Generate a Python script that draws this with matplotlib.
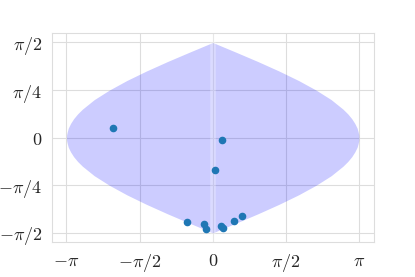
import numpy as np
import matplotlib
matplotlib.use("Agg")
import matplotlib.pyplot as plt
import seaborn as sns

sns.set_style("whitegrid")
plt.rcParams['mathtext.fontset'] = 'cm'
plt.rcParams['font.family'] = ['DejaVu Sans']

# boundary of the shaded region
# latitude as fraction of pi/2, half-width as fraction of pi
boundary_lat_frac = [0.0, 0.03, 0.06, 0.10, 0.15, 0.20, 0.25, 0.30, 0.40,
                     0.50, 0.60, 0.70, 0.80, 0.90, 0.95, 1.0]
boundary_halfwidth_frac = [1.0, 0.999, 0.995, 0.988, 0.972, 0.951, 0.924, 0.891, 0.81,
                           0.707, 0.588, 0.454, 0.309, 0.156, 0.078, 0.0]

# scatter points
pts_x = [-2.139, 0.207, 0.050, -0.546, -0.187, -0.138, 0.172, 0.228, 0.458, 0.630]
pts_y = [0.165, -0.043, -0.539, -1.389, -1.422, -1.505, -1.460, -1.488, -1.377, -1.290]

xticks = [-np.pi, -np.pi/2, 0, np.pi/2, np.pi]
xticklabels = [r'$-\pi$', r'$-\pi/2$', r'$0$', r'$\pi/2$', r'$\pi$']
yticks = [-np.pi/2, -np.pi/4, 0, np.pi/4, np.pi/2]
yticklabels = [r'$-\pi/2$', r'$-\pi/4$', r'$0$', r'$\pi/4$', r'$\pi/2$']

lat = np.array(boundary_lat_frac) * np.pi / 2
hw = np.array(boundary_halfwidth_frac) * np.pi
ys = np.concatenate([-lat[::-1], lat[1:]])
ws = np.concatenate([hw[::-1], hw[1:]])

fig = plt.figure(figsize=(4.15, 2.77), dpi=100)
ax = fig.add_axes([0.125, 0.125, 0.775, 0.756])
ax.fill_betweenx(ys, -ws, ws, color='blue', alpha=0.2, linewidth=0)
ax.axvline(0, color='white', alpha=0.3, linewidth=4, zorder=1.5)
ax.scatter(pts_x, pts_y, s=20, color='#1f77b4', zorder=3)

ax.set_xticks(xticks)
ax.set_xticklabels(xticklabels, fontsize=13)
ax.set_yticks(yticks)
ax.set_yticklabels(yticklabels, fontsize=13)
ax.set_xlabel(r'$\phi$', fontsize=13, labelpad=2)
for s in ax.spines.values():
    s.set_color('#dddddd')
ax.grid(color='#dddddd')

fig.savefig('out.png', dpi=100)
